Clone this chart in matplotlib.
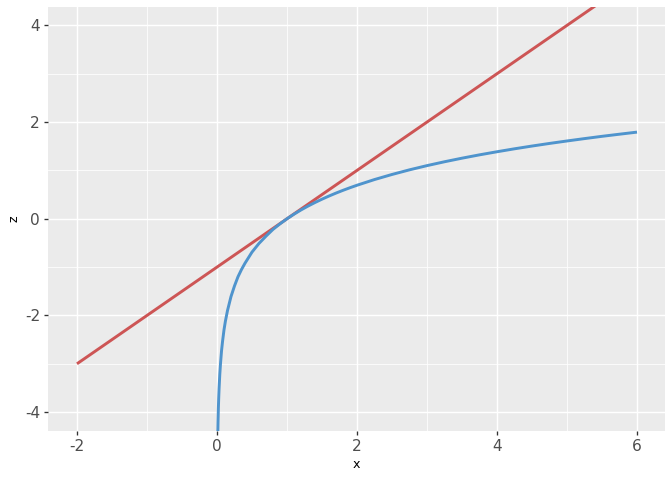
import matplotlib.pyplot as plt
import numpy as np

plt.rcParams['axes.unicode_minus'] = False

# red straight line (tangent)
line_x = [-2, 6]
line_z = [-3, 5]

# blue curve, values
curve_x = [0.012, 0.015, 0.02, 0.025, 0.03, 0.04, 0.05, 0.065, 0.08, 0.1, 0.12, 0.15,
           0.2, 0.25, 0.3, 0.35, 0.4, 0.5, 0.6, 0.7, 0.8, 0.9, 1.0, 1.1, 1.2, 1.3, 1.4,
           1.5, 1.6, 1.7, 1.8, 1.9, 2.0, 2.25, 2.5, 2.75, 3.0, 3.25, 3.5, 3.75, 4.0,
           4.25, 4.5, 4.75, 5.0, 5.25, 5.5, 5.75, 6.0]
curve_z = [-4.42, -4.2, -3.91, -3.69, -3.51, -3.22, -3.0, -2.73, -2.53, -2.3, -2.12, -1.9,
           -1.61, -1.39, -1.2, -1.05, -0.92, -0.69, -0.51, -0.36, -0.22, -0.105, 0.0, 0.095,
           0.182, 0.262, 0.336, 0.405, 0.47, 0.531, 0.588, 0.642, 0.693, 0.811, 0.916,
           1.012, 1.099, 1.179, 1.253, 1.322, 1.386, 1.447, 1.504, 1.558, 1.609, 1.658,
           1.705, 1.749, 1.792]

xticks = [-2, 0, 2, 4, 6]
yticks = [-4, -2, 0, 2, 4]

fig = plt.figure(figsize=(7, 5), dpi=96)
ax = fig.add_axes([48/672, 49/480, 617/672, 424/480])
ax.set_facecolor('#EBEBEB')
for s in ax.spines.values():
    s.set_visible(False)

ax.plot(line_x, line_z, color='#CD5555', lw=2.2, solid_capstyle='butt', zorder=3)
ax.plot(curve_x, curve_z, color='#4F94CD', lw=2.2, solid_capstyle='butt', zorder=4)

ax.set_xlim(-2.414, 6.4)
ax.set_ylim(-4.39, 4.38)
ax.set_xticks(xticks)
ax.set_yticks(yticks)
ax.set_xticks([-1, 1, 3, 5], minor=True)
ax.set_yticks([-3, -1, 1, 3], minor=True)
ax.grid(which='major', color='white', lw=1.1)
ax.grid(which='minor', color='white', lw=0.6)
ax.set_axisbelow(True)
ax.tick_params(which='major', length=3, width=1, color='#333333',
               labelsize=11.5, labelcolor='#4D4D4D', pad=3)
ax.tick_params(which='minor', length=0)
ax.set_xlabel('x', fontsize=9.5, color='black', labelpad=3)
ax.set_ylabel('z', fontsize=9.5, color='black', labelpad=3)

fig.savefig('out.png', dpi=96)
